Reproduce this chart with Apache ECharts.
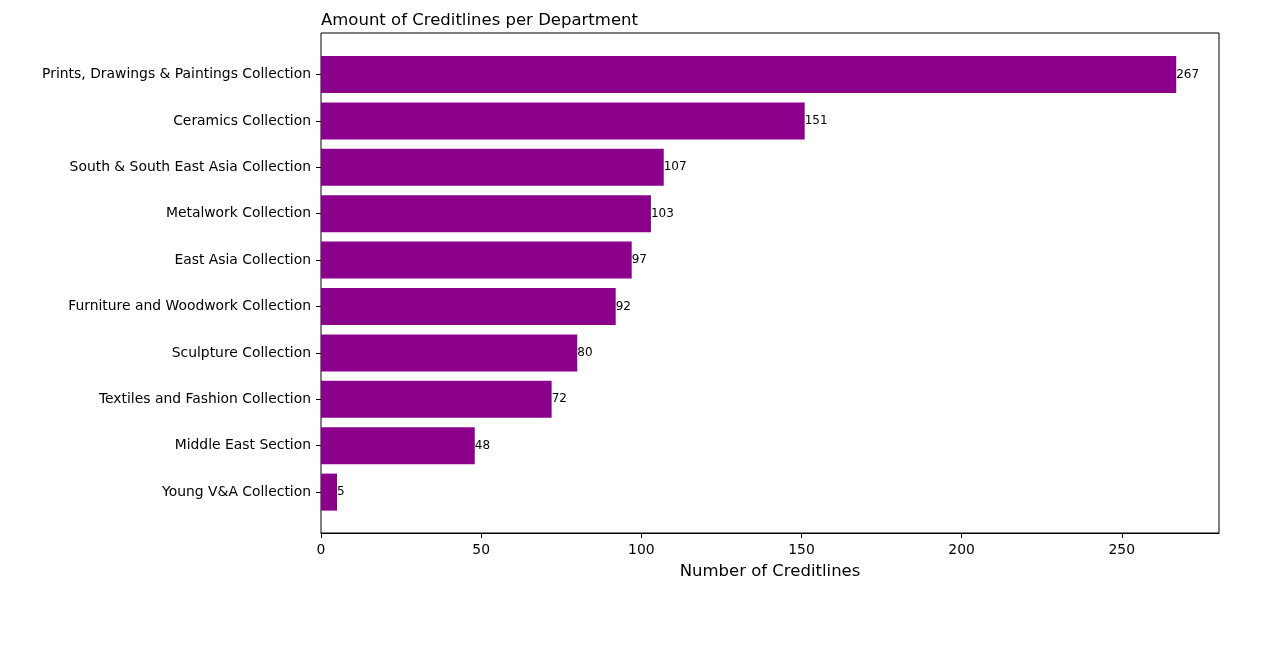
<!DOCTYPE html>
<html><head><meta charset="utf-8">
<script src="https://cdn.jsdelivr.net/npm/echarts@6/dist/echarts.min.js"></script>
<style>html,body{margin:0;padding:0;background:#fff}#c{width:1283px;height:666px}</style>
</head><body><div id="c"></div>
<script>
const categories = ["Prints, Drawings & Paintings Collection","Ceramics Collection","South & South East Asia Collection","Metalwork Collection","East Asia Collection","Furniture and Woodwork Collection","Sculpture Collection","Textiles and Fashion Collection","Middle East Section","Young V&A Collection"];
const values = [267,151,107,103,97,92,80,72,48,5];
const xTicks = [0,50,100,150,200,250];
const xMax = 280.35;
const font = "DejaVu Sans";
const chart = echarts.init(document.getElementById('c'));
chart.setOption({
  animation:false,
  textStyle:{fontFamily:font},
  title:{text:"Amount of Creditlines per Department",left:316,top:7,textStyle:{fontFamily:font,fontSize:16.5,fontWeight:'normal',color:'#000'}},
  grid:[
    {left:321,top:51.3,width:898,height:464},
    {left:321,top:33,width:898,height:500,show:true,borderColor:'#000',borderWidth:1,backgroundColor:'transparent'}
  ],
  xAxis:[
    {gridIndex:0,type:'value',min:0,max:xMax,show:false},
    {gridIndex:1,type:'value',min:0,max:xMax,interval:50,
     axisLine:{show:true,lineStyle:{color:'#000'}},
     axisTick:{show:true,length:5,lineStyle:{color:'#000'},customValues:xTicks},
     axisLabel:{color:'#000',fontSize:13.9,margin:10,customValues:xTicks},
     splitLine:{show:false},
     name:"Number of Creditlines",nameLocation:'middle',nameGap:30,
     nameTextStyle:{fontSize:16.5,color:'#000',verticalAlign:'top'}}
  ],
  yAxis:[
    {gridIndex:0,type:'category',data:categories,inverse:true,
     axisLine:{show:false},
     axisTick:{show:true,alignWithLabel:true,length:5,lineStyle:{color:'#000'}},
     axisLabel:{color:'#000',fontSize:13.9,margin:10}},
    {gridIndex:1,type:'value',show:false,min:0,max:1}
  ],
  series:[{
    type:'bar',xAxisIndex:0,yAxisIndex:0,data:values,barWidth:37,
    itemStyle:{color:'#8B008B'},
    label:{show:true,position:'right',distance:0,color:'#000',fontSize:12}
  }]
});
</script></body></html>
